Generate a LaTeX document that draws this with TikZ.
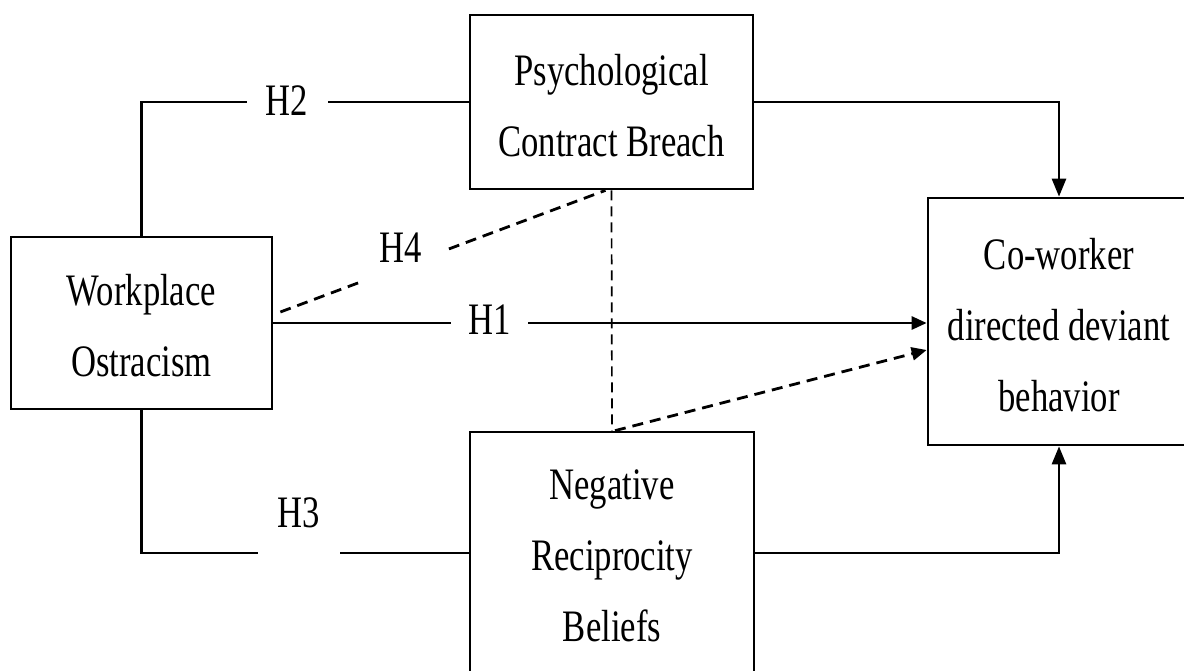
\documentclass[tikz,border=0pt]{standalone}
\usepackage{fontspec}
\setmainfont{Liberation Serif}[FakeStretch=0.77]
\usetikzlibrary{arrows.meta}
\begin{document}
\begin{tikzpicture}[x=0.5pt,y=-0.5pt,
  box/.style={draw, line width=1.35pt, inner sep=0pt},
  txt/.style={align=center, inner sep=0pt, font=\fontsize{22.5}{35.5}\selectfont},
  lab/.style={font=\fontsize{22.5}{27}\selectfont, inner sep=0pt},
  gap/.style={fill=white, inner sep=0pt},
  conn/.style={line width=1.35pt},
  arrH/.style={-{Triangle[length=7.5pt,width=6.5pt]}},
  arrV/.style={-{Triangle[length=9pt,width=7pt]}},
  bigdash/.style={line width=1.4pt, dash pattern=on 5.5pt off 3.5pt},
  thindash/.style={line width=0.85pt, dash pattern=on 5pt off 3pt}]
\useasboundingbox (0,0) rectangle (1184,670);
\clip (0,0) rectangle (1184,670);

\node[box, minimum width=130.5pt, minimum height=86pt] (wo) at (141.5,323) {};
\node[box, minimum width=141.5pt, minimum height=87pt] (pcb) at (611.5,102) {};
\node[box, minimum width=131pt, minimum height=123.5pt] (cdb) at (1059,321.5) {};
\node[box, minimum width=142pt, minimum height=121pt] (nrb) at (612,553) {};

\node[txt] (wo-t) at ([yshift=-1.5pt]wo.center) {Workplace\\Ostracism};
\node[txt] (pcb-t) at ([yshift=-2pt]pcb.center) {Psychological\\Contract Breach};
\node[txt] (cdb-t) at ([yshift=-2pt]cdb.center) {Co-worker\\directed deviant\\behavior};
\node[txt] (nrb-t) at ([yshift=-1.5pt]nrb.center) {Negative\\Reciprocity\\Beliefs};

% solid connectors
\draw[conn] (wo.north) |- (pcb.west);
\draw[conn] (wo.south) |- (nrb.west);
\draw[conn, arrH] (wo.east) -- (wo.east -| cdb.west);
\draw[conn, arrV] (pcb.east) -| (cdb.north);
\draw[conn, arrV] (nrb.east) -| (cdb.south);

% dashed connectors
\draw[bigdash] ([xshift=3.5pt,yshift=5.5pt]wo.east) -- ([xshift=-3pt]pcb.south);
\draw[thindash] (pcb.south) -- (nrb.north);
\draw[bigdash, arrH] ([xshift=1.5pt]nrb.north) -- ([yshift=-14.25pt]cdb.west);

% labels with gaps
\node[gap, lab, minimum width=40.5pt, minimum height=8pt] (h2) at (287,101) {H2};
\node[gap, lab, minimum width=38.5pt, minimum height=8pt] (h1) at (489.5,320) {H1};
\node[gap, minimum width=41pt, minimum height=8pt] (g3) at (299,553) {};
\node[lab] (h3) at (299,513) {H3};
\node[gap, minimum width=42pt, minimum height=17pt] (g4) at (404,264.5) {};
\node[lab] (h4) at (401,248) {H4};
\end{tikzpicture}
\end{document}
